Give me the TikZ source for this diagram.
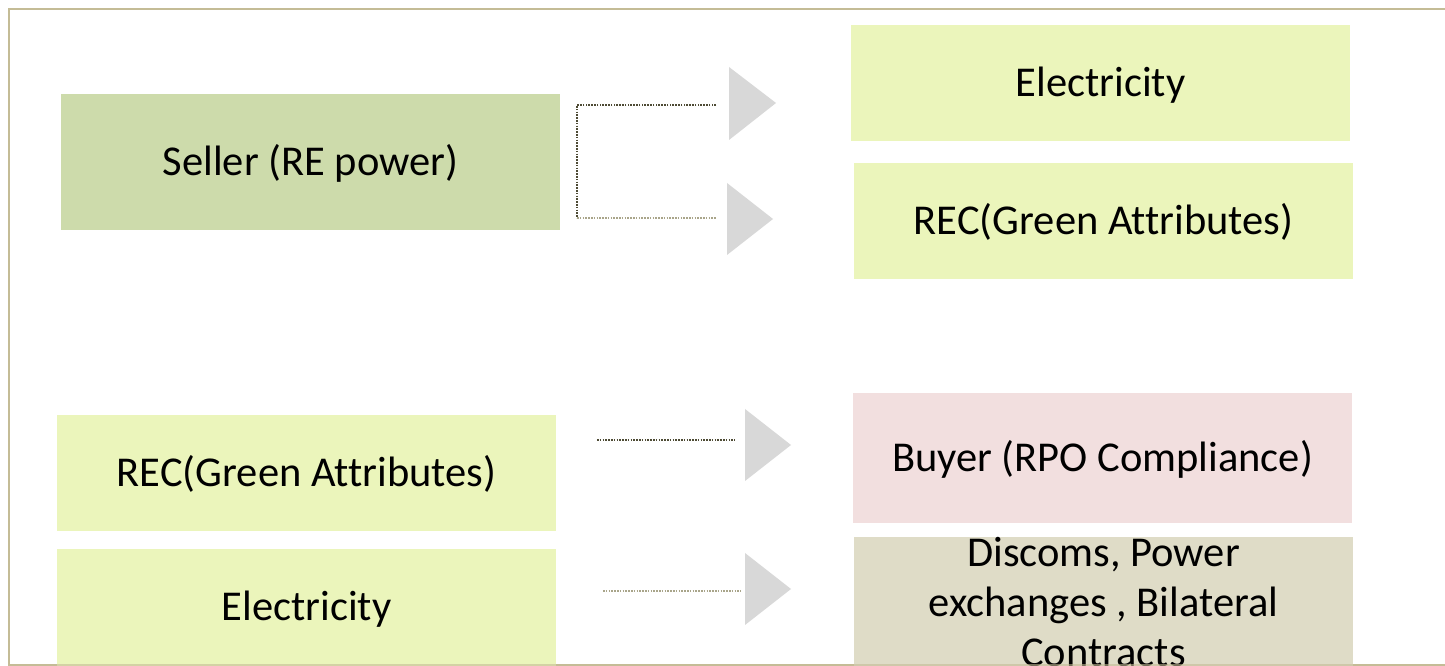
\documentclass[tikz,border=0pt]{standalone}
\usepackage{fontspec}
\setmainfont{Carlito}[Ligatures=NoCommon]
\definecolor{frameTan}{HTML}{C4BC96}
\definecolor{sellerGreen}{HTML}{CDDBAB}
\definecolor{paleLime}{HTML}{EBF5BB}
\definecolor{palePink}{HTML}{F2DFDF}
\definecolor{paleTan}{HTML}{DFDCC7}
\definecolor{arrowGray}{HTML}{D8D8D8}
\definecolor{dotDark}{HTML}{4E4B35}
\definecolor{dotLight}{HTML}{A9A58A}
\tikzset{
  bigtext/.style={font=\fontsize{42.5}{50}\selectfont, text height=34pt, text depth=7pt},
  box/.style={rectangle, inner sep=0pt, minimum width=499pt, align=center, bigtext},
  dotline/.style={line width=1.3pt, dash pattern=on 1.6pt off 1.2pt},
  headtri/.style={fill=arrowGray}
}
\begin{document}
\begin{tikzpicture}[x=1pt,y=1pt]
\useasboundingbox (0,0) rectangle (1445,666);
\clip (0,0) rectangle (1445,666);
\fill[white] (0,0) rectangle (1445,666);

% outer frame (open on the right)
\draw[frameTan, line width=2pt] (1445,657) -- (9,657) -- (9,1) -- (1445,1);

% boxes
\node[box, fill=sellerGreen, minimum height=136pt] (seller) at (310.5,504) {Seller (RE power)};
\node[box, fill=paleLime, minimum height=116pt] (elecTop) at (1100.5,583) {Electricity};
\node[box, fill=paleLime, minimum height=116pt] (recTop) at (1103.5,445) {REC(Green Attributes)};
\node[box, fill=paleLime, minimum height=116pt] (recLeft) at (306.5,193) {REC(Green Attributes)};
\fill[paleLime] (57,-40) rectangle (556,117);
\node[bigtext, inner sep=0pt] (elecLeft) at (306.5,59) {Electricity};
\node[box, fill=palePink, minimum height=130pt] (buyer) at (1102.5,208) {Buyer (RPO Compliance)};
\fill[paleTan] (854,-40) rectangle (1353,129);
\node[font=\fontsize{42.5}{50}\selectfont, align=center, anchor=north, inner sep=0pt] (discoms) at (1103.5,129)
  {Discoms, Power\\exchanges , Bilateral\\Contracts};

% bottom frame edge over the boxes
\draw[frameTan, line width=2pt, opacity=0.6] (9,1) -- (1445,1);

% arrow heads
\fill[headtri] (729,599) -- (776,563) -- (729,526) -- cycle;
\fill[headtri] (727,483) -- (773,447) -- (727,411) -- cycle;
\fill[headtri] (745,257) -- (791,221) -- (745,185) -- cycle;
\fill[headtri] (745,113) -- (791,77) -- (745,41) -- cycle;

% connector ends
\coordinate (fork) at (577,561);
\coordinate (forkLow) at (577,448);
\coordinate (toElec) at (716,561);
\coordinate (toRec) at (716,448);
\coordinate (recStart) at (597,226);
\coordinate (toBuyer) at (735,226);
\coordinate (elecStart) at (603,75);
\coordinate (toMarket) at (741,75);

% dotted connectors
\draw[dotline, dotDark] (toElec) -- (fork) -- (forkLow);
\draw[dotline, dotLight] (forkLow) -- (toRec);
\draw[dotline, dotDark] (recStart) -- (toBuyer);
\draw[dotline, dotLight] (elecStart) -- (toMarket);
\end{tikzpicture}
\end{document}
